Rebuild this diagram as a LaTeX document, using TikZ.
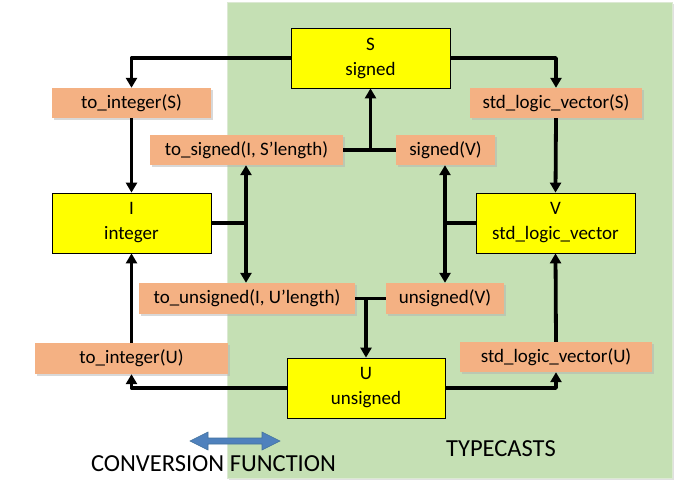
\documentclass[tikz,border=0pt]{standalone}
\usepackage{fontspec}
\setmainfont{Carlito}
\usetikzlibrary{arrows.meta,shadows}
\definecolor{bggreen}{HTML}{C5E0B4}
\definecolor{bgedge}{HTML}{DCE9D3}
\definecolor{boxorange}{HTML}{F4B183}
\definecolor{boxyellow}{HTML}{FFFF00}
\definecolor{legblue}{HTML}{4F81BD}
\definecolor{legblueedge}{HTML}{41719C}
\begin{document}
\begin{tikzpicture}[x=1pt,y=-1pt,
  ybox/.style={draw=black, line width=0.8pt, fill=boxyellow, align=center,
    minimum width=159pt, minimum height=60pt, inner sep=0pt,
    font=\fontsize{19}{25}\selectfont,
    drop shadow={shadow xshift=1.2pt, shadow yshift=-1.2pt, fill=black!40, opacity=0.6}},
  obox/.style={fill=boxorange, minimum height=30pt, inner sep=0pt,
    font=\fontsize{19}{23}\selectfont,
    drop shadow={shadow xshift=1.5pt, shadow yshift=-1.5pt, fill=black!30, opacity=0.5}},
  wire/.style={line width=3.8pt, line join=round},
  arr/.style={wire, -{Triangle[width=11pt,length=10pt]}},
]
\useasboundingbox (0,0) rectangle (677,485);
\fill[white] (0,0) rectangle (677,485);
% green typecast region
\fill[black!12] (229,4) rectangle (674,480);
\filldraw[fill=bggreen, draw=bgedge, line width=0.8pt] (227,2) rectangle (672,478);

% yellow type boxes
\node[ybox] (S) at (370.5,58) {S\\signed};
\node[ybox] (I) at (131.5,223) {I\\integer};
\node[ybox] (V) at (555.5,223) {V\\std\_logic\_vector};
\node[ybox, minimum width=158pt] (U) at (366,388) {U\\unsigned};

% orange function boxes
\node[obox, minimum width=159pt] (toIS) at (131.5,103) {to\_integer(S)};
\node[obox, minimum width=193pt] (toSig) at (246.5,150) {to\_signed(I, S’length)};
\node[obox, minimum width=99pt] (sigV) at (445.5,150) {signed(V)};
\node[obox, minimum width=172pt] (slvS) at (556,103) {std\_logic\_vector(S)};
\node[obox, minimum width=216pt, minimum height=31pt] (toUns) at (247,298.5) {to\_unsigned(I, U’length)};
\node[obox, minimum width=118pt, minimum height=31pt] (unsV) at (445,298.5) {unsigned(V)};
\node[obox, minimum width=193pt, minimum height=31pt] (toIU) at (131.5,358.5) {to\_integer(U)};
\node[obox, minimum width=192pt] (slvU) at (556,357) {std\_logic\_vector(U)};

% connectors around the outside
\draw[arr] (S.west) -| (toIS.north);
\draw[arr] (toIS.south) -- (I.north);
\draw[arr] (S.east) -| (slvS.north);
\draw[arr] (slvS.south) -- (V.north);
\draw[arr] (U.west) -| (toIU.south);
\draw[arr] (toIU.north) -- (I.south);
\draw[arr] (U.east) -| (slvU.south);
\draw[arr] (slvU.north) -- (V.south);

% inner junctions
\coordinate (jI) at (246,223);
\draw[wire] (I.east) -- (jI);
\draw[arr] (jI) -- (jI |- toSig.south);
\draw[arr] (jI) -- (jI |- toUns.north);

\coordinate (jV) at (445,223);
\draw[wire] (V.west) -- (jV);
\draw[arr] (jV) -- (jV |- sigV.south);
\draw[arr] (jV) -- (jV |- unsV.north);

\coordinate (jS) at (370.5,150);
\draw[wire] (toSig.east) -- (sigV.west);
\draw[arr] (jS) -- (S.south);

\coordinate (jU) at (366,298.5);
\draw[wire] (toUns.east) -- (unsV.west);
\draw[arr] (jU) -- (U.north);

% legend
\filldraw[fill=legblue, draw=legblueedge, line width=0.6pt]
  (190,441) -- (208,432) -- (208,438) -- (262,438) -- (262,432) -- (280,441)
  -- (262,450) -- (262,444) -- (208,444) -- (208,450) -- cycle;
\node[font=\fontsize{24.5}{28}\selectfont, inner sep=0pt] (conv) at (213.5,464) {CONVERSION FUNCTION};
\node[font=\fontsize{24.5}{28}\selectfont, inner sep=0pt] (tc) at (501,449) {TYPECASTS};
\end{tikzpicture}
\end{document}
